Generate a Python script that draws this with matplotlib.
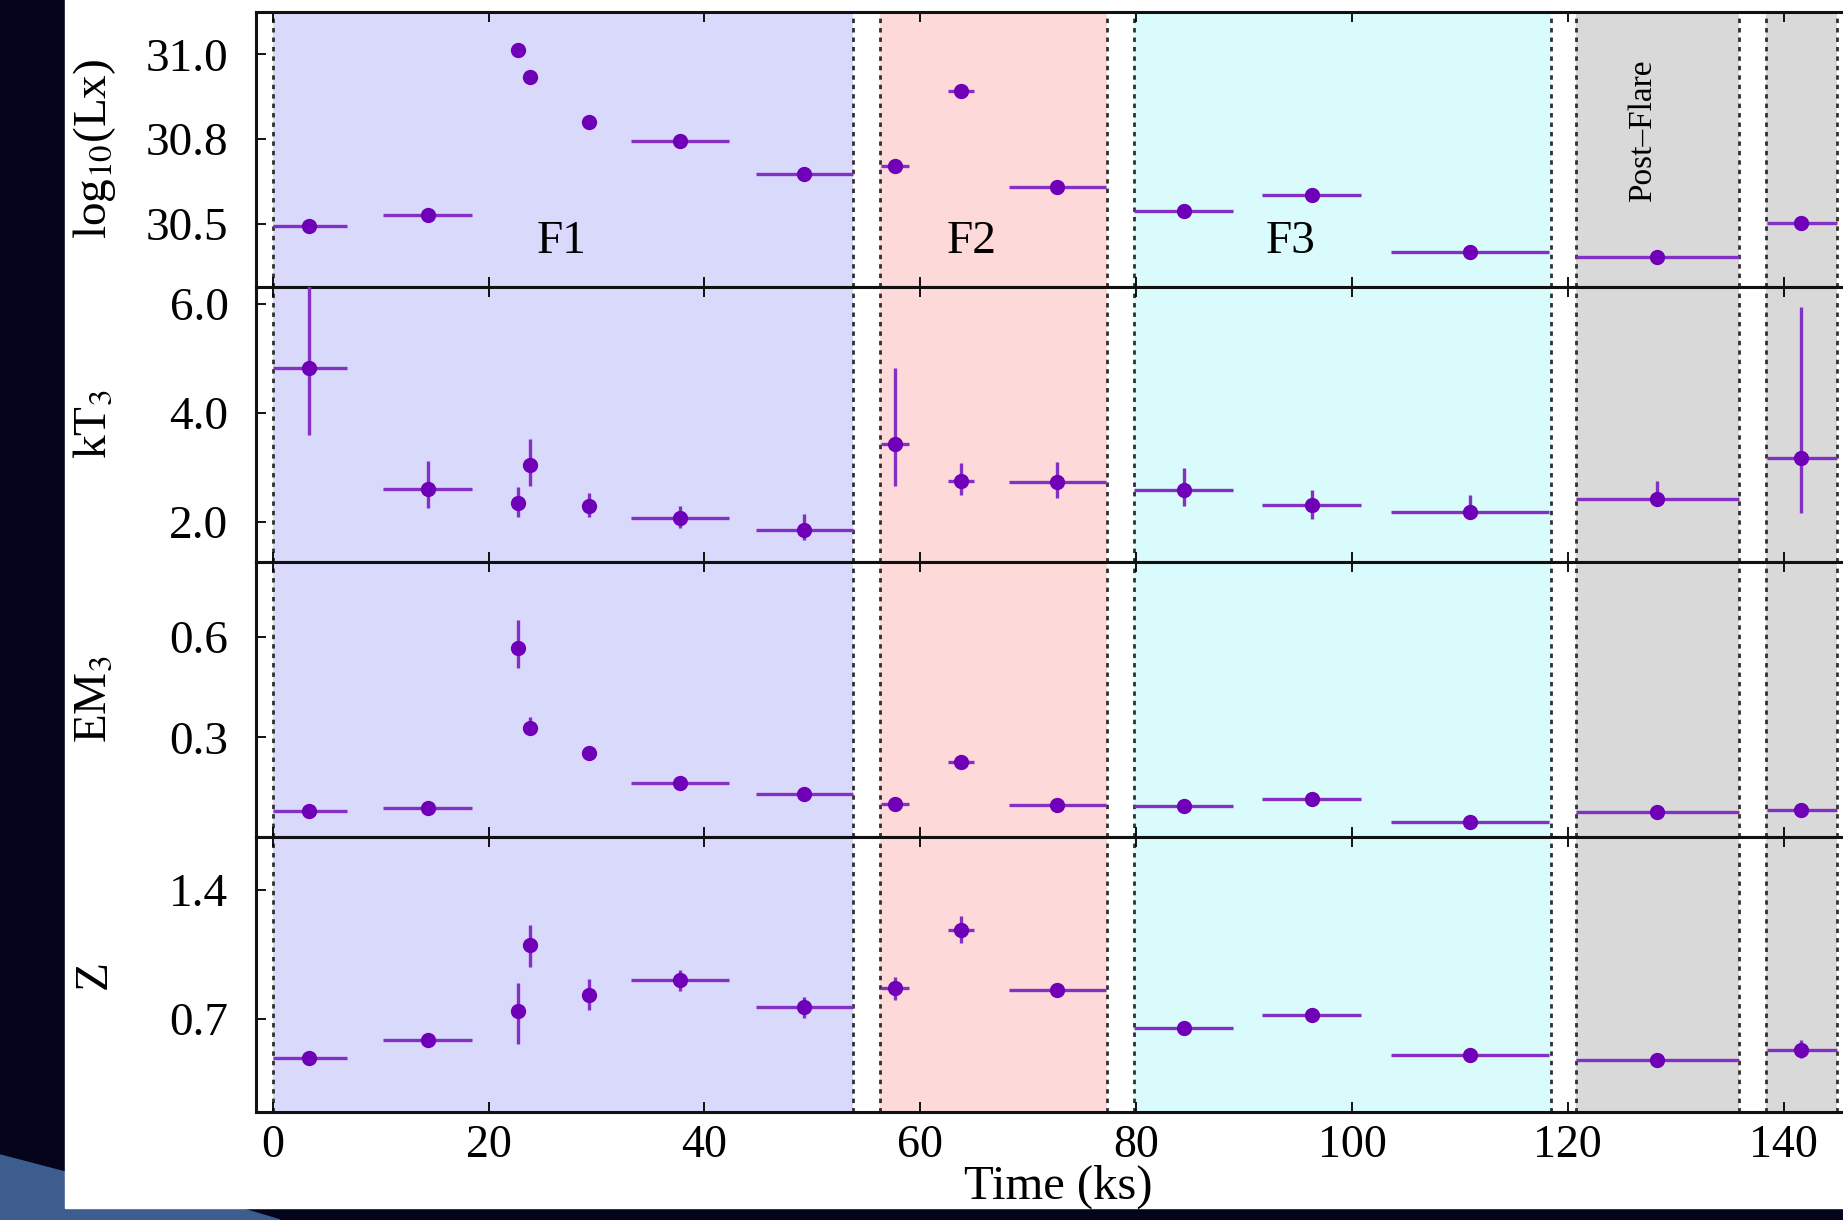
import matplotlib.pyplot as plt
import numpy as np
from matplotlib.patches import Rectangle, Polygon

plt.rcParams['font.family'] = ['Liberation Serif', 'DejaVu Serif']
plt.rcParams['mathtext.fontset'] = 'stix'

# time bins (ks): centre, start, end
t = np.array([3.4, 14.4, 22.7, 23.8, 29.3, 37.7, 49.2, 57.7, 63.8, 72.7, 84.4, 96.3, 110.9, 128.3, 141.6])
t_lo = np.array([0.0, 10.2, 22.3, 23.4, 28.9, 33.2, 44.8, 56.4, 62.6, 68.2, 79.8, 91.7, 103.6, 120.8, 138.5])
t_hi = np.array([6.9, 18.5, 23.1, 24.2, 29.7, 42.3, 53.8, 59.0, 65.0, 77.2, 89.0, 100.8, 118.3, 135.9, 144.9])

logLx = np.array([30.495, 30.527, 31.014, 30.933, 30.802, 30.744, 30.649, 30.672, 30.893, 30.608, 30.537, 30.586, 30.419, 30.403, 30.503])
logLx_lo = np.array([30.490, 30.522, 31.002, 30.923, 30.794, 30.739, 30.644, 30.665, 30.886, 30.603, 30.532, 30.581, 30.414, 30.398, 30.483])
logLx_hi = np.array([30.500, 30.532, 31.026, 30.943, 30.810, 30.749, 30.654, 30.679, 30.900, 30.613, 30.542, 30.591, 30.424, 30.408, 30.523])

kT3 = np.array([4.82, 2.60, 2.35, 3.04, 2.29, 2.07, 1.86, 3.44, 2.76, 2.73, 2.59, 2.31, 2.18, 2.42, 3.17])
kT3_lo = np.array([3.59, 2.26, 2.09, 2.67, 2.09, 1.90, 1.68, 2.67, 2.50, 2.44, 2.29, 2.06, 2.12, 2.37, 2.16])
kT3_hi = np.array([6.50, 3.12, 2.64, 3.52, 2.53, 2.30, 2.15, 4.82, 3.08, 3.11, 2.99, 2.59, 2.50, 2.75, 5.94])

EM3 = np.array([0.081, 0.090, 0.565, 0.329, 0.255, 0.164, 0.131, 0.101, 0.227, 0.098, 0.096, 0.116, 0.047, 0.078, 0.084])
EM3_lo = np.array([0.077, 0.086, 0.506, 0.306, 0.246, 0.158, 0.126, 0.096, 0.221, 0.094, 0.092, 0.112, 0.043, 0.074, 0.080])
EM3_hi = np.array([0.085, 0.094, 0.649, 0.360, 0.264, 0.170, 0.136, 0.106, 0.233, 0.102, 0.100, 0.120, 0.051, 0.082, 0.088])

Z = np.array([0.490, 0.586, 0.743, 1.101, 0.830, 0.911, 0.763, 0.866, 1.182, 0.857, 0.649, 0.721, 0.505, 0.476, 0.534])
Z_lo = np.array([0.480, 0.576, 0.563, 0.983, 0.749, 0.851, 0.704, 0.803, 1.110, 0.845, 0.637, 0.709, 0.493, 0.464, 0.489])
Z_hi = np.array([0.500, 0.596, 0.893, 1.209, 0.915, 0.965, 0.821, 0.929, 1.260, 0.869, 0.661, 0.733, 0.517, 0.488, 0.585])

# shaded phases
reg_start = [0.0, 56.25, 79.8, 120.8, 138.4]
reg_end = [53.8, 77.3, 118.4, 135.9, 144.9]
reg_color = ['#d9d9fb', '#fdd9d9', '#d9fbfc', '#d9d9d9', '#d9d9d9']

phase_names = ['F1', 'F2', 'F3']
phase_x = [26.8, 64.8, 94.3]

ylabels = ['log$_{10}$(Lx)', 'kT$_3$', 'EM$_3$', 'Z']
yticks = [[30.5, 30.75, 31.0], [2.0, 4.0, 6.0], [0.3, 0.6], [0.7, 1.4]]
yticklabels = [['30.5', '30.8', '31.0'], ['2.0', '4.0', '6.0'], ['0.3', '0.6'], ['0.7', '1.4']]
ylims = [(30.315, 31.126), (1.27, 6.32), (0.0036, 0.823), (0.196, 1.687)]
xticks = [0, 20, 40, 60, 80, 100, 120, 140]

series = [(logLx, logLx_lo, logLx_hi), (kT3, kT3_lo, kT3_hi),
          (EM3, EM3_lo, EM3_hi), (Z, Z_lo, Z_hi)]

fig = plt.figure(figsize=(18.43, 12.2), dpi=100, facecolor='#04041c')
# slide background
fig.patches.append(Polygon([(0, 1 - 1155/1220), (65/1843, 1 - 1172/1220), (65/1843, 12/1220),
                            (240/1843, 12/1220), (280/1843, 0), (0, 0)],
                           closed=True, transform=fig.transFigure, color='#3d5d8e', zorder=-2))
fig.patches.append(Rectangle((65/1843, 12/1220), 1, 1, transform=fig.transFigure,
                             color='white', zorder=-1))

axes = fig.subplots(4, 1, sharex=True)
fig.subplots_adjust(left=0.139, right=1.0, top=0.9904, bottom=0.0885, hspace=0)

mcol = '#7000b8'
ecol = '#8430c4'

for i, ax in enumerate(axes):
    y, ylo, yhi = series[i]
    for s, e, c in zip(reg_start, reg_end, reg_color):
        ax.axvspan(s, e, color=c, lw=0, zorder=0)
        for xv in (s, e):
            ax.axvline(xv, color='#303030', lw=2.0, ls=(0, (1.6, 1.8)), zorder=1)
    ax.errorbar(t, y, xerr=[t - t_lo, t_hi - t], yerr=[y - ylo, yhi - y],
                fmt='o', ms=10, color=mcol, ecolor=ecol, elinewidth=2.4,
                capsize=0, zorder=5)
    ax.set_xlim(-1.53, 145.5)
    ax.set_ylim(*ylims[i])
    ax.set_yticks(yticks[i])
    ax.set_yticklabels(yticklabels[i])
    ax.set_xticks(xticks)
    ax.spines['right'].set_visible(False)
    for sp in ('left', 'top', 'bottom'):
        ax.spines[sp].set_linewidth(2.2)
        ax.spines[sp].set_color('#111111')
    ax.tick_params(axis='y', direction='in', length=7, width=1.3, labelsize=34,
                   pad=20, left=True, right=False)
    ax.tick_params(axis='x', direction='in', length=7, width=1.3, labelsize=33,
                   pad=9, top=True, bottom=True)
    ax.text(-0.102, 0.5, ylabels[i], rotation=90, ha='center', va='center',
            fontsize=34, transform=ax.transAxes)
    if i < 3:
        ax.tick_params(axis='x', labelbottom=False)

for name, xv in zip(phase_names, phase_x):
    axes[0].text(xv, 30.447, name, ha='center', va='center', fontsize=34)
axes[0].text(127.0, 30.774, 'Post–Flare', rotation=90, ha='center', va='center', fontsize=24)

fig.text(0.574, 0.027, 'Time (ks)', ha='center', va='center', fontsize=35)

fig.savefig('out.png', dpi=100, facecolor=fig.get_facecolor())
